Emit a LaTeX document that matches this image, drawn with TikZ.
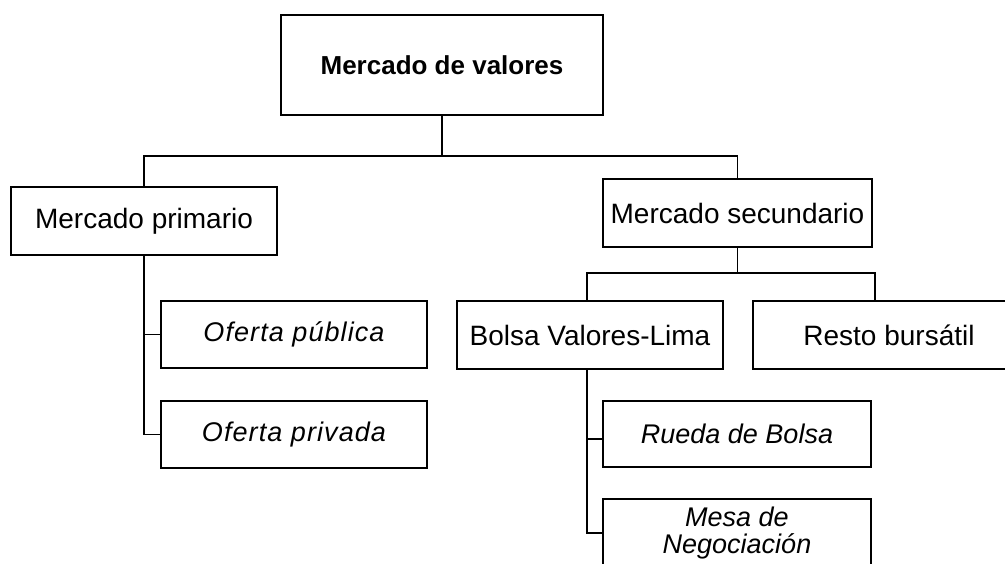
\documentclass[tikz,border=0pt]{standalone}
\usepackage{fontspec}
\setmainfont{Liberation Sans}
\begin{document}
\begin{tikzpicture}[x=1pt,y=-1pt,
  box/.style={draw, line width=1.5pt, rectangle, inner sep=0pt, align=center},
  conn/.style={line width=1.5pt},
  reg/.style={font=\fontsize{28}{30}\selectfont},
  ital/.style={font=\fontsize{27}{27}\selectfont\itshape},
  italw/.style={font=\fontsize{27}{27}\selectfont\itshape\addfontfeature{LetterSpace=4}},
  ttl/.style={font=\fontsize{26}{28}\selectfont\bfseries}]
\useasboundingbox (0,0) rectangle (1005,563);
% nodes
\node[box, ttl, minimum width=322pt, minimum height=100pt] (top) at (442,65) {Mercado de valores};
\node[box, reg, minimum width=266pt, minimum height=68pt] (prim) at (144,221) {Mercado primario};
\node[box, italw, minimum width=266pt, minimum height=67pt] (pub) at (294,334.5) {Oferta pública};
\node[box, italw, minimum width=266pt, minimum height=67pt] (priv) at (294,434.5) {Oferta privada};
\node[box, reg, minimum width=269pt, minimum height=68pt] (sec) at (737.5,213) {Mercado secundario};
\node[box, reg, minimum width=266pt, minimum height=68pt] (bolsa) at (590,335) {Bolsa Valores-Lima};
\node[box, reg, minimum width=272pt, minimum height=68pt] (resto) at (889,335) {Resto bursátil};
\node[box, ital, minimum width=268pt, minimum height=66pt] (rueda) at (737,434) {Rueda de Bolsa};
\node[box, ital, minimum width=268pt, minimum height=68pt] (mesa) at (737,533) {Mesa de\\Negociación};
% connectors
\coordinate (j1) at (top.south |- 0,156);
\draw[conn] (top.south) -- (j1);
\draw[conn] (j1) -| (prim.north);
\draw[conn] (j1) -| (sec.north);
\coordinate (j2) at (sec.south |- 0,273);
\coordinate (bl) at (587,273);
\coordinate (rs) at (875,273);
\draw[conn] (sec.south) -- (j2);
\draw[conn] (bl |- bolsa.north) -- (bl) -- (rs) -- (rs |- resto.north);
\draw[conn] (bl |- bolsa.south) |- ([yshift=-5pt]rueda.west);
\draw[conn] (bl |- bolsa.south) |- (mesa.west);
\draw[conn] (prim.south) |- (pub.west);
\draw[conn] (prim.south) |- (priv.west);
\end{tikzpicture}
\end{document}
